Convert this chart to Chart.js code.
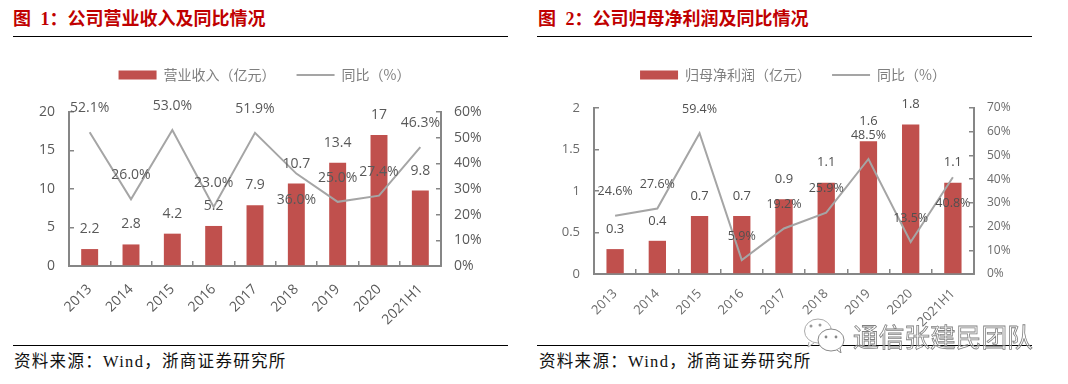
<!DOCTYPE html>
<html>
<head>
<meta charset="utf-8">
<script src="https://cdn.jsdelivr.net/npm/chart.js@4"></script>
<style>
html, body { margin: 0; padding: 0; background: #fff; }
body { position: relative; width: 1068px; height: 384px; overflow: hidden; font-family: "Liberation Serif", "Noto Sans CJK SC", serif; }
.title { position: absolute; top: 7px; color: #c00000; font-size: 18px; font-weight: 700; word-spacing: 5px; line-height: 24px; white-space: pre; }
.rule { position: absolute; height: 1px; width: 495px; background: #000; }
.source { position: absolute; top: 351px; color: #111; font-size: 16.5px; line-height: 22px; letter-spacing: 1.3px; white-space: pre; }
canvas { position: absolute; top: 45px; }
.mark { position: absolute; left: 804px; top: 318px; height: 35px; display: flex; align-items: center; }
.mark span { font: 25.7px/30px "Noto Sans CJK SC", sans-serif; -webkit-text-fill-color: rgba(255,255,255,0.4); -webkit-text-stroke: 0.8px #808080; margin-left: 8px; white-space: pre; }
</style>
</head>
<body>
<div class="title" style="left:13px">图 1：公司营业收入及同比情况</div>
<div class="rule" style="left:13px;top:36px"></div>
<div class="title" style="left:538px">图 2：公司归母净利润及同比情况</div>
<div class="rule" style="left:537px;top:36px"></div>
<canvas id="revenueChart"></canvas>
<canvas id="profitChart"></canvas>
<div class="rule" style="left:13px;top:345px"></div>
<div class="rule" style="left:537px;top:345px"></div>
<div class="source" style="left:14px">资料来源：Wind，浙商证券研究所</div>
<div class="source" style="left:539px">资料来源：Wind，浙商证券研究所</div>
<div class="mark">
  <svg width="41" height="35" viewBox="0 0 41 35">
    <ellipse cx="14" cy="13" rx="13.5" ry="12" fill="#fff" stroke="#aaa"/>
    <ellipse cx="27" cy="22" rx="13" ry="11" fill="#fff" stroke="#888"/>
    <path d="M5 24 L4 29 L10 25" fill="#fff" stroke="#aaa"/>
    <path d="M33 32 L37 35 L36 30" fill="#fff" stroke="#888"/>
    <circle cx="7" cy="8" r="1.5" fill="#999"/><circle cx="16" cy="7" r="1.5" fill="#999"/>
    <circle cx="22" cy="19" r="1.4" fill="#888"/><circle cx="32" cy="19" r="1.4" fill="#888"/>
  </svg>
  <span>通信张建民团队</span>
</div>
<script>
// 数据
const categories = ['2013', '2014', '2015', '2016', '2017', '2018', '2019', '2020', '2021H1'];
const revenue = [2.2, 2.8, 4.2, 5.2, 7.9, 10.7, 13.4, 17, 9.8];
const revenueYoy = [52.1, 26.0, 53.0, 23.0, 51.9, 36.0, 25.0, 27.4, 46.3];
const revenueBelow = ['2018'];
const profit = [0.3, 0.4, 0.7, 0.7, 0.9, 1.1, 1.6, 1.8, 1.1];
const profitYoy = [24.6, 27.6, 59.4, 5.9, 19.2, 25.9, 48.5, 13.5, 40.8];
const profitBelow = ['2021H1'];

const BAR_COLOR = '#c0504d';
const LINE_COLOR = '#a5a5a5';
const AXIS_COLOR = '#868686';

// 数据标签
function labelPlugin(cfg) {
    return {
        id: 'valueLabels',
        // 图例下方留白
        beforeInit(chart) {
            const fit = chart.legend.fit;
            chart.legend.fit = function() {
                fit.call(this);
                this.height += cfg.legendGap;
            };
        },
        afterDatasetsDraw(chart) {
            const ctx = chart.ctx;
            ctx.save();
            ctx.textAlign = 'center';
            ctx.textBaseline = 'middle';
            ctx.fillStyle = cfg.labelColor;
            ctx.font = cfg.barFont;
            chart.getDatasetMeta(0).data.forEach((bar, i) => {
                ctx.fillText(String(chart.data.datasets[0].data[i]), bar.x, bar.y - 20);
            });
            ctx.font = cfg.lineFont;
            chart.getDatasetMeta(1).data.forEach((pt, i) => {
                const below = cfg.below.includes(categories[i]);
                ctx.fillText(chart.data.datasets[1].data[i].toFixed(1) + '%', pt.x, pt.y + (below ? 26 : -24));
            });
            ctx.restore();
        }
    };
}

// 初始化图表
function initChart(id, cfg) {
    const canvas = document.getElementById(id);
    canvas.style.left = cfg.left + 'px';
    canvas.width = cfg.width;
    canvas.height = cfg.height;
    canvas.style.width = cfg.width + 'px';
    canvas.style.height = cfg.height + 'px';
    const tickFont = { family: 'Open Sans', size: cfg.tickSize };
    const axisBorder = { color: AXIS_COLOR, width: 2 };
    const axisGrid = { drawOnChartArea: false, color: AXIS_COLOR, lineWidth: 1.5, tickLength: -5 };
    return new Chart(canvas, {
        data: {
            labels: categories,
            datasets: [
                { type: 'bar', label: cfg.barLabel, data: cfg.bars, backgroundColor: BAR_COLOR, yAxisID: 'y', order: 2, barPercentage: 0.82, categoryPercentage: 0.5 },
                { type: 'line', label: '同比（%）', data: cfg.line, borderColor: LINE_COLOR, backgroundColor: LINE_COLOR, borderWidth: 2, pointRadius: 0, tension: 0, yAxisID: 'y1', order: 1 }
            ]
        },
        options: {
            responsive: false,
            animation: false,
            layout: { padding: cfg.padding },
            plugins: {
                tooltip: { enabled: false },
                legend: {
                    position: 'top',
                    labels: {
                        font: { family: 'Noto Sans CJK SC', size: 14 },
                        color: '#7f7f7f',
                        usePointStyle: true,
                        boxHeight: 9,
                        pointStyleWidth: 38,
                        padding: 21,
                        generateLabels(chart) {
                            return chart.data.datasets.map((ds, i) => ({
                                text: ds.label,
                                datasetIndex: i,
                                fontColor: '#7f7f7f',
                                fillStyle: i === 0 ? BAR_COLOR : LINE_COLOR,
                                strokeStyle: i === 0 ? BAR_COLOR : LINE_COLOR,
                                lineWidth: i === 0 ? 0 : 2,
                                pointStyle: i === 0 ? 'rect' : 'line'
                            }));
                        }
                    }
                }
            },
            scales: {
                x: {
                    offset: true,
                    border: axisBorder,
                    grid: { ...axisGrid, offset: true },
                    ticks: { font: tickFont, color: cfg.tickColor, minRotation: 45, maxRotation: 45, padding: cfg.xPad, autoSkip: false },
                    afterFit(scale) { scale.height = cfg.xHeight; }
                },
                y: {
                    min: 0, max: cfg.barMax,
                    border: axisBorder,
                    grid: axisGrid,
                    ticks: { stepSize: cfg.barStep, font: tickFont, color: cfg.tickColor, padding: 19, callback: v => String(v) },
                    afterFit(scale) { scale.width = cfg.yWidth; }
                },
                y1: {
                    position: 'right',
                    min: 0, max: cfg.lineMax,
                    border: axisBorder,
                    grid: axisGrid,
                    ticks: { stepSize: 10, font: { family: 'Open Sans', size: cfg.percentSize }, color: cfg.tickColor, padding: 18, callback: v => v + '%' },
                    afterFit(scale) { scale.width = 50; }
                }
            }
        },
        plugins: [labelPlugin(cfg)]
    });
}

initChart('revenueChart', {
    left: 0, width: 526, height: 287,
    barLabel: '营业收入（亿元）', bars: revenue, line: revenueYoy, below: revenueBelow,
    barMax: 20, barStep: 5, lineMax: 60,
    yWidth: 31, xHeight: 66, xPad: 20, tickSize: 14, percentSize: 14, legendGap: 20,
    tickColor: '#595959', labelColor: '#595959',
    barFont: '14px "Open Sans"', lineFont: '14px "Open Sans"',
    padding: { top: 2, bottom: 0, left: 38, right: 35 }
});

initChart('profitChart', {
    left: 534, width: 514, height: 289,
    barLabel: '归母净利润（亿元）', bars: profit, line: profitYoy, below: profitBelow,
    barMax: 2, barStep: 0.5, lineMax: 70,
    yWidth: 32, xHeight: 60, xPad: 17, tickSize: 13, percentSize: 12, legendGap: 16,
    tickColor: '#6b6b6b', labelColor: '#505050',
    barFont: '13px "Open Sans"', lineFont: '12.5px "Open Sans"',
    padding: { top: 2, bottom: 0, left: 28, right: 24 }
});
</script>
</body>
</html>
